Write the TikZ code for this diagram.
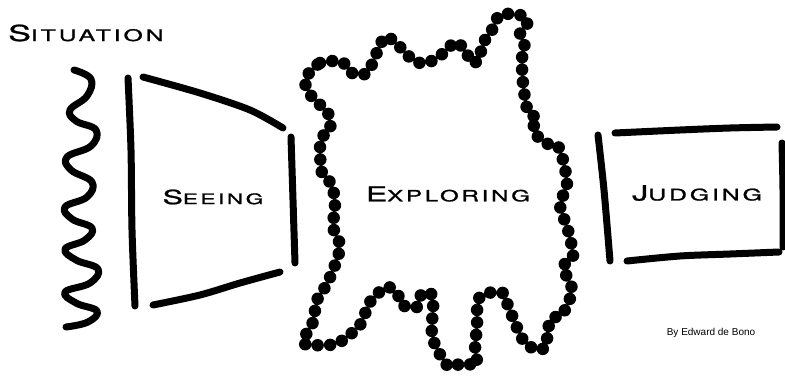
\documentclass[tikz,border=0pt]{standalone}
\usepackage{fontspec}
\setmainfont{TeX Gyre Heros}
\newfontfamily\widefont[FakeStretch=1.55,LetterSpace=18,FakeBold=1.2]{TeX Gyre Heros}
\newfontfamily\bylinefont{Liberation Sans}
% first letter large, the rest as small capitals
\newcommand\capword[4]{{\widefont\fontsize{#1}{#1}\selectfont #3\fontsize{#2}{#2}\selectfont #4}}

\begin{document}
\begin{tikzpicture}[
    x=1pt, y=-1pt,
    stroke/.style={line width=7pt, line cap=round, line join=round},
    dots/.style={line width=12.5pt, line cap=round, dash pattern=on 0pt off 12.5pt},
    label/.style={inner sep=0pt, anchor=center}
]
\useasboundingbox (0,0) rectangle (785,377);

% Texts
\node (situation) [label, anchor=west] at (8,33) {\capword{22}{16}{S}{ITUATION}};
\node (seeing) [label] at (213,197) {\capword{19.5}{14.5}{S}{EEING}};
\node (exploring) [label] at (448,194) {\capword{20.5}{15.5}{E}{XPLORING}};
\node (judging) [label] at (697,193) {\capword{21}{16}{J}{UDGING}};
\node (byline) [label] at (711,333) {\bylinefont\fontsize{10}{12}\selectfont By Edward de Bono};

% Situation
\draw [stroke] plot[smooth, tension=0.7] coordinates {
    (74,70) (91,79) (87,96) (70,110) (76,121) (96,130) (91,146) (67,157)
    (71,170) (92,182) (87,197) (65,207) (72,219) (92,228) (85,240) (65,249)
    (76,260) (98,269) (90,283) (65,292) (76,303) (97,311) (88,322) (66,327)};

% Seeing
\draw [stroke] plot[smooth] coordinates {(128,78) (131,150) (132,230) (135,306)};
\draw [stroke] plot[smooth] coordinates {(143,77) (200,93) (250,110) (283,128)};
\draw [stroke] plot[smooth] coordinates {(291,137) (293,200) (295,263)};
\draw [stroke] plot[smooth] coordinates {(153,305) (200,295) (240,283) (280,272)};

% Exploring
\draw [dots] plot[smooth cycle, tension=0.5] coordinates {
    (305,80) (320,63) (342,62) (352,73) (367,73) (378,50) (385,37) (395,42)
    (413,60) (427,63) (445,52) (455,42) (465,50) (472,63) (480,58) (482,45)
    (492,30) (500,15) (520,15) (528,22) (520,33) (525,47) (522,58) (523,83)
    (528,112) (537,118) (533,130) (545,143) (557,145) (563,160) (567,185)
    (560,205) (568,230) (573,257) (563,267) (572,290) (562,315) (552,318)
    (547,333) (547,345) (538,350) (523,340) (507,303) (503,293) (488,293)
    (478,300) (477,325) (475,350) (477,365) (463,363) (450,367) (442,358)
    (432,335) (433,297) (422,293) (417,307) (402,305) (398,295) (387,287)
    (370,302) (360,325) (340,342) (327,345) (303,343) (313,322) (317,300)
    (328,282) (340,248) (333,227) (335,207) (332,185) (322,173) (320,148)
    (322,137) (330,130) (328,113) (312,97)};

% Judging
\draw [stroke] plot[smooth] coordinates {(598,135) (604,190) (610,261)};
\draw [stroke] plot[smooth] coordinates {(615,133) (680,130) (730,128) (777,127)};
\draw [stroke] plot[smooth] coordinates {(782,143) (783,190) (783,247)};
\draw [stroke] plot[smooth] coordinates {(627,261) (680,256) (730,254) (779,252)};

\end{tikzpicture}
\end{document}
